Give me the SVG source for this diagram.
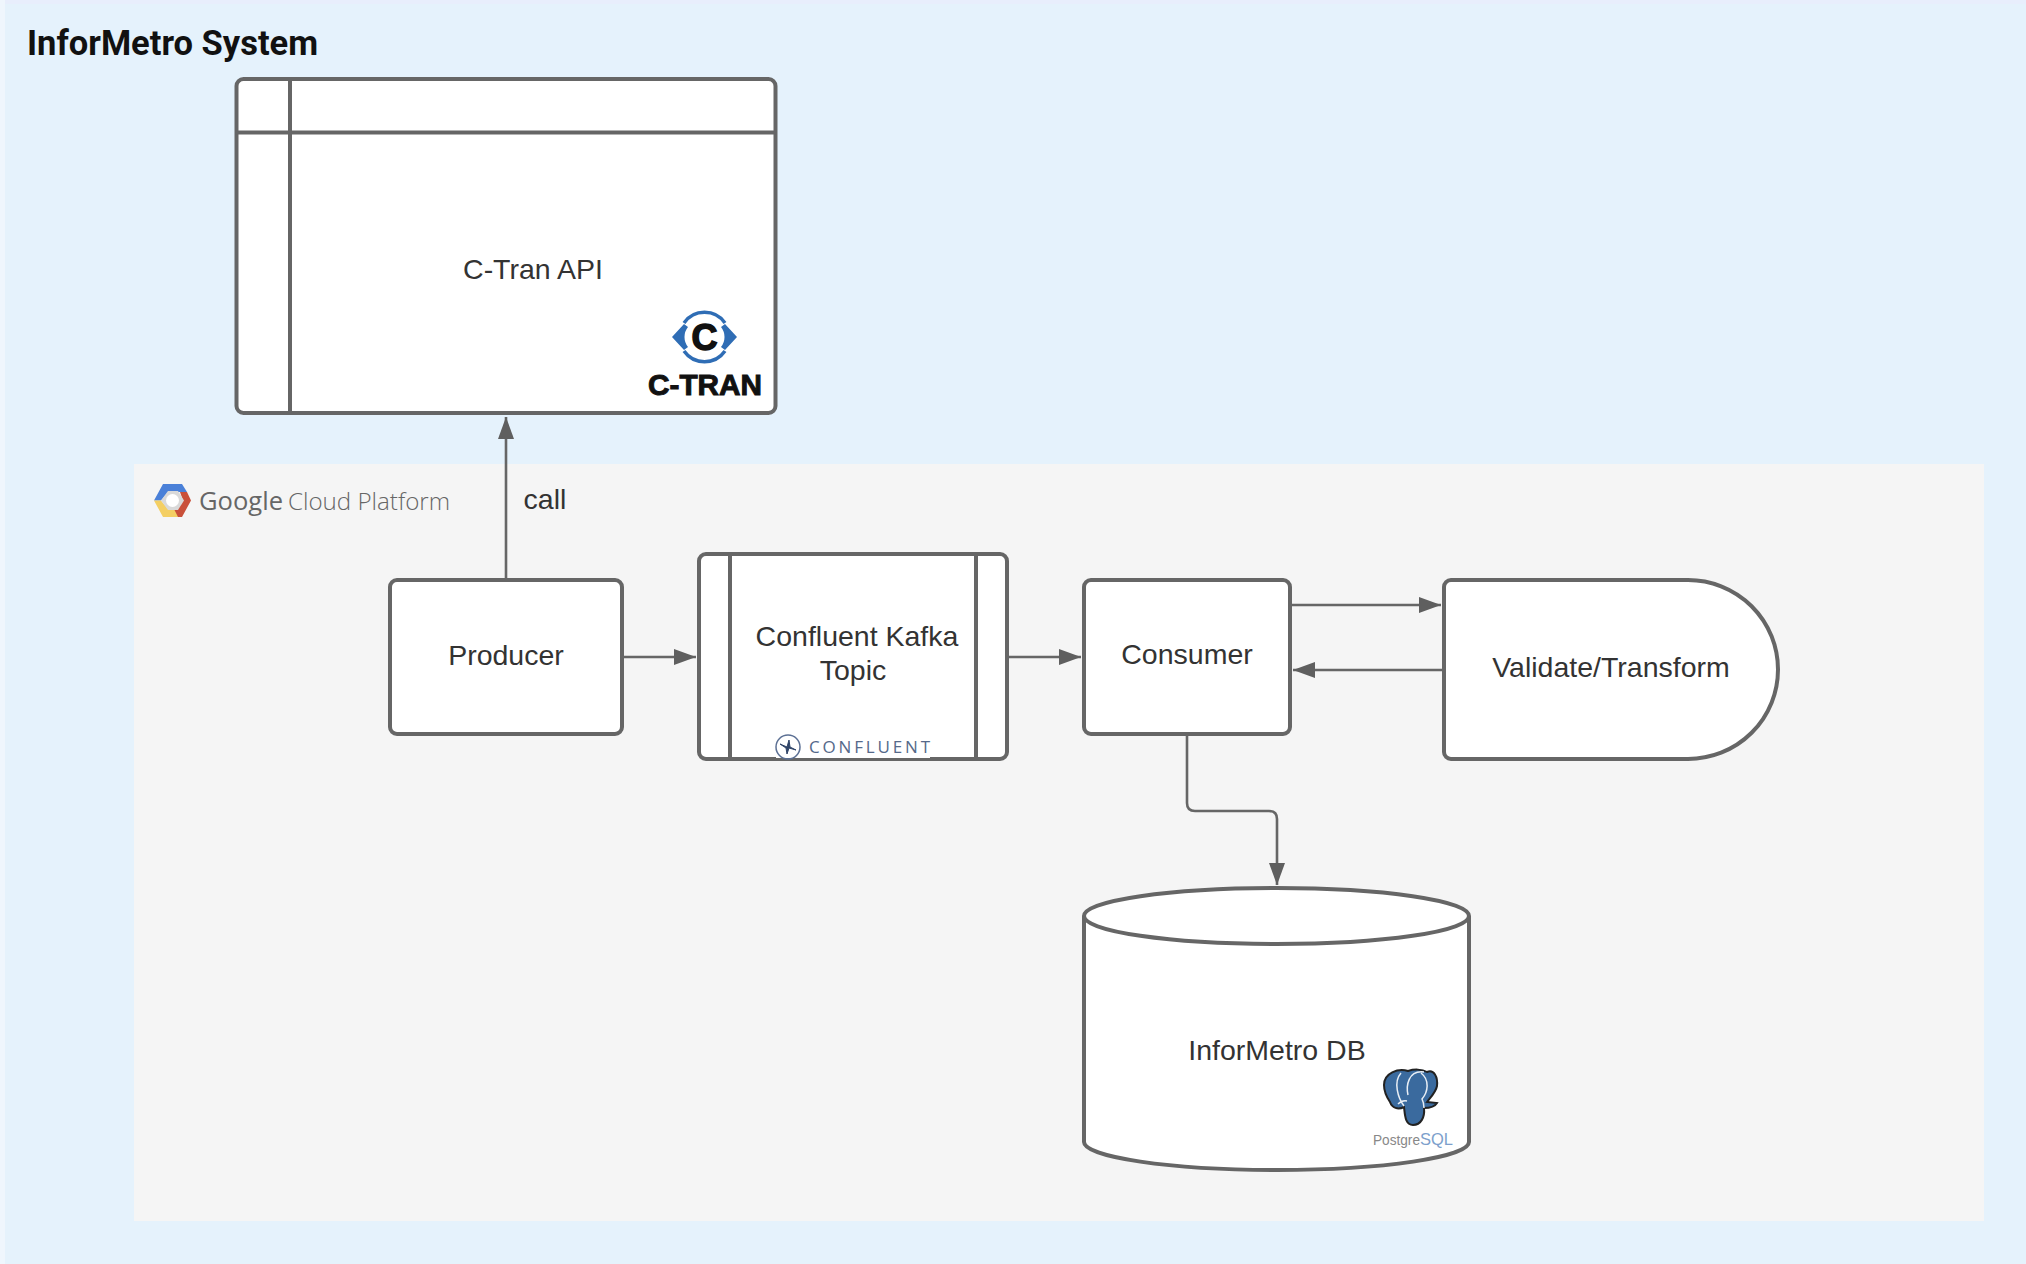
<svg xmlns="http://www.w3.org/2000/svg" width="2026" height="1264" viewBox="0 0 2026 1264">
<style>
.s{fill:#fff;stroke:#666;stroke-width:4;stroke-linejoin:round}
.i{fill:none;stroke:#666;stroke-width:4}
.c{fill:none;stroke:#666;stroke-width:2.6}
.t{font-family:"Liberation Sans",Arial,sans-serif;font-size:28.5px;fill:#333;text-anchor:middle}
</style>
<defs>
<marker id="a" markerUnits="userSpaceOnUse" markerWidth="24" markerHeight="18" refX="22" refY="8" orient="auto"><path d="M0 0L22 8L0 16Z" fill="#5f5f5f"/></marker>
</defs>
<rect width="2026" height="1264" fill="#e5f2fc"/>
<rect width="2026" height="4" fill="#e8eefc"/>
<rect width="5" height="1264" fill="#eff6fd"/>
<text x="27" y="55" font-family="Roboto,sans-serif" font-weight="700" font-size="34.500" fill="#111">InforMetro System</text>
<rect id="gcp-zone" x="134" y="464" width="1850" height="757" fill="#f5f5f5"/>
<g id="gcp-logo">
<path d="M154 500.500L163 484H182L187 492H168L161 500.500Z" fill="#4a80d8"/>
<path d="M154 500.500L163 517H181L176 509H168L161 500.500Z" fill="#f4cf63"/>
<path d="M187 492L191 500.500L182 517H178L174 509H176L183 500.500L180 492Z" fill="#c9503a"/>
<path d="M161 500.500L168 491H178L184 500.500L178 510H168Z" fill="#d9d9d9"/>
<circle cx="172.500" cy="500.500" r="6.500" fill="#fff"/>
<text x="199" y="510" font-family="'Open Sans',sans-serif" font-size="26" fill="#666" textLength="84" lengthAdjust="spacingAndGlyphs">Google</text>
<text x="288" y="510" font-family="'Open Sans',sans-serif" font-weight="300" font-size="24" fill="#666" textLength="162" lengthAdjust="spacingAndGlyphs">Cloud Platform</text>
</g>
<g id="connectors">
<path class="c" d="M506 580V417" marker-end="url(#a)"/>
<path class="c" d="M622 657H696" marker-end="url(#a)"/>
<path class="c" d="M1007 657H1081" marker-end="url(#a)"/>
<path class="c" d="M1290 605H1441" marker-end="url(#a)"/>
<path class="c" d="M1444 670H1293" marker-end="url(#a)"/>
<path class="c" d="M1187 734V803Q1187 811 1195 811H1269Q1277 811 1277 819V885" marker-end="url(#a)"/>
</g>
<text class="t" x="545" y="509">call</text>
<g id="c-tran-api">
<rect class="s" x="236.500" y="79" width="539" height="334" rx="7"/>
<path class="i" d="M290 79V413M236.500 132.500H775.500"/>
<text class="t" x="533" y="279">C-Tran API</text>
<path d="M672 337L684 324L688 327A16 16 0 0 0 688 347L684 350ZM737 337L725 324L721 327A16 16 0 0 1 721 347L725 350Z" fill="#2f6db5"/>
<path d="M684 323A25 25 0 0 1 725 323M684 351A25 25 0 0 0 725 351" fill="none" stroke="#2f6db5" stroke-width="3.500"/>
<text x="704.500" y="350" font-family="'Liberation Sans',sans-serif" font-weight="700" font-size="36" fill="#111" stroke="#111" stroke-width="1.500" text-anchor="middle">C</text>
<text x="705" y="395" font-family="'Liberation Sans',sans-serif" font-weight="700" font-size="30" fill="#111" stroke="#111" stroke-width="1" text-anchor="middle" textLength="114" lengthAdjust="spacingAndGlyphs">C-TRAN</text>
</g>
<g id="producer">
<rect class="s" x="390" y="580" width="232" height="154" rx="7"/>
<text class="t" x="506" y="665">Producer</text>
</g>
<g id="kafka-topic">
<rect class="s" x="699" y="554" width="308" height="205" rx="7"/>
<path class="i" d="M730 554V759M976 554V759"/>
<text class="t"><tspan x="857" y="646">Confluent Kafka</tspan><tspan x="853" y="680">Topic</tspan></text>
<rect x="776" y="730" width="154" height="28" fill="#fff"/>
<circle cx="788" cy="747" r="12" fill="none" stroke="#5c7094" stroke-width="1.500"/>
<path d="M780 744L787 747L789 740L790 747L796 750L789 748L787 754L786 748Z" fill="#2f4468" stroke="#2f4468" stroke-width="1"/>
<text x="809" y="753" font-family="'Open Sans',sans-serif" font-size="17" fill="#55698a" textLength="121" lengthAdjust="spacing">CONFLUENT</text>
</g>
<g id="consumer">
<rect class="s" x="1084" y="580" width="206" height="154" rx="7"/>
<text class="t" x="1187" y="664">Consumer</text>
</g>
<g id="validate-transform">
<path class="s" d="M1451 580H1688A90 89.500 0 0 1 1688 759H1451A7 7 0 0 1 1444 752V587A7 7 0 0 1 1451 580Z"/>
<text class="t" x="1611" y="676.500">Validate/Transform</text>
</g>
<g id="informetro-db">
<path class="s" d="M1084 916V1142C1084 1157 1170 1170 1277 1170C1384 1170 1469 1157 1469 1142V916"/>
<ellipse class="s" cx="1276.500" cy="916" rx="192.500" ry="28"/>
<text class="t" x="1277" y="1060">InforMetro DB</text>
<path d="M1384 1085C1384 1073 1398 1068 1408 1071C1414 1069 1422 1069 1427 1072C1434 1069 1438 1077 1437 1086C1436 1092 1430 1098 1427 1102L1437 1103C1434 1108 1428 1108 1424 1108C1425 1117 1421 1125 1413 1125C1405 1125 1405 1115 1404 1107C1398 1110 1392 1108 1390 1102C1386 1096 1384 1091 1384 1085Z" fill="#3a6a9e" stroke="#222" stroke-width="2"/>
<path d="M1401 1073C1393 1082 1398 1098 1404 1106M1424 1072C1408 1070 1406 1086 1408 1095M1421 1073C1430 1080 1428 1092 1422 1099C1424 1103 1424 1105 1424 1108M1398 1104Q1402 1100 1407 1101" fill="none" stroke="#e8eef5" stroke-width="1.500"/>
<text x="1373" y="1145" font-family="'Liberation Sans',sans-serif" font-size="14.500" fill="#888" textLength="47" lengthAdjust="spacingAndGlyphs">Postgre</text>
<text x="1420" y="1145" font-family="'Liberation Sans',sans-serif" font-size="16.500" fill="#7d9fcc" textLength="33" lengthAdjust="spacingAndGlyphs">SQL</text>
</g>
</svg>
